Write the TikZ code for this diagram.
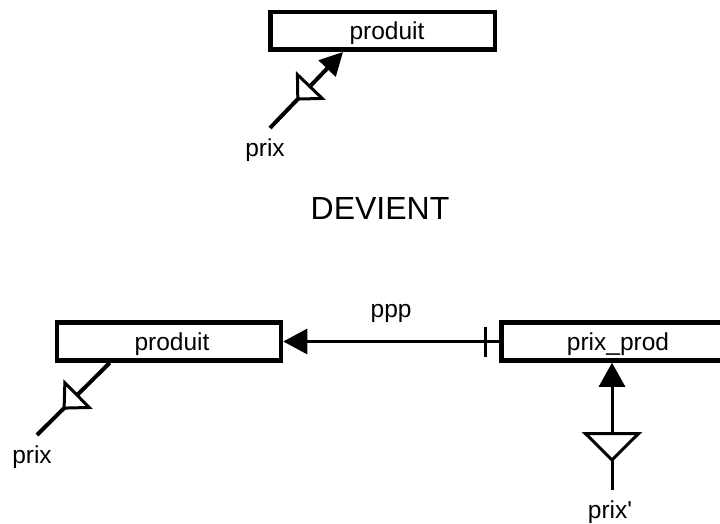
\documentclass[tikz,border=0pt]{standalone}
\usepackage{fontspec}
\setmainfont{Liberation Sans}
\usetikzlibrary{arrows.meta,decorations.markings}
\newcommand\taille{\fontsize{24.5}{28}\selectfont}
\tikzset{
  entite/.style={draw, line width=4.5pt, minimum height=38pt, inner sep=0pt, text depth=0pt, font=\taille},
  etiq/.style={inner sep=0pt, font=\taille},
  lien/.style={line width=3pt},
  cle/.style n args={4}{decoration={markings, mark=at position #1 with
    {\arrowreversed{Triangle[width=#2, length=#3, fill=white, line width=#4]}}}, postaction=decorate},
}
\begin{document}
\begin{tikzpicture}[x=1pt, y=-1pt]
\clip (0,0) rectangle (720,524);
% avant
\node[entite, minimum width=224.5pt, minimum height=37.5pt] (produitA) at (382.5,31) {\hspace*{9pt}produit};
\node[etiq, anchor=base] (prixA) at (265,157) {prix};
\coordinate (pA) at (270,128);
\draw[line width=4pt, -{Triangle[length=23pt,width=23pt]}, cle={38pt}{41pt}{21pt}{3pt}] (pA) -- ([xshift=75pt]produitA.south west);
\node[font=\fontsize{32}{36}\selectfont] (devient) at (380,208.5) {DEVIENT};
% apres
\node[entite, minimum width=224pt] (produitB) at (169,341.5) {\hspace*{6pt}produit};
\node[entite, minimum width=233.5pt] (prixprod) at (618,341.5) {prix\_prod};
\draw[lien, -{Triangle[length=24pt,width=25pt]},
  decoration={markings, mark=at position 14pt with {\draw[lien, -] (0pt,-15pt) -- (0pt,15pt);}}, postaction=decorate]
  (prixprod.west) -- node[etiq, above=17pt] (ppp) {ppp} (produitB.east);
\node[etiq, anchor=base] (prixB) at (32,463) {prix};
\coordinate (pB) at (37,435);
\draw[line width=4pt, cle={36pt}{41pt}{22pt}{3pt}] (pB) -- ([xshift=55pt]produitB.south west);
\node[etiq, anchor=base] (prixC) at (610,518) {prix\textquotesingle};
\coordinate (pC) at (612,490);
\draw[lien, -{Triangle[length=24pt,width=26pt]}, cle={28pt}{60pt}{30pt}{3pt}] (pC) -- (pC |- prixprod.south);
\end{tikzpicture}
\end{document}
